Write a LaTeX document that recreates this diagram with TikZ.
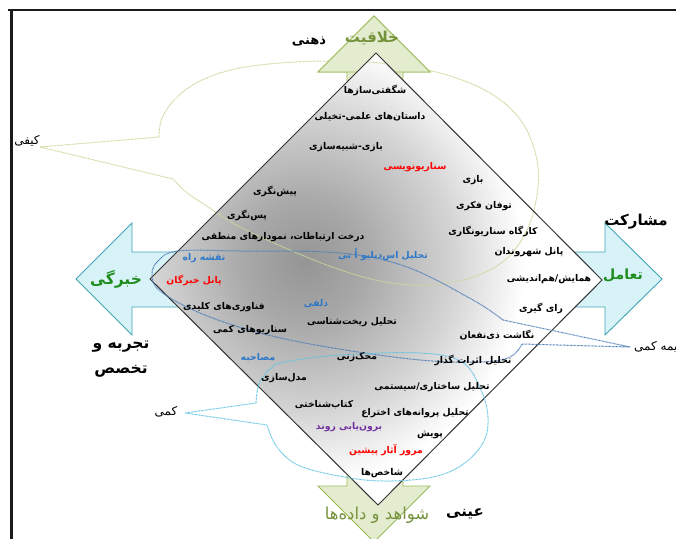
\documentclass[tikz,border=0pt]{standalone}
\usepackage{fontspec}
\newfontfamily\fafont[Script=Arabic]{DejaVu Sans}
\TeXXeTstate=1
\newcommand\rtl[1]{\beginR#1\endR}

\definecolor{frameblk}{HTML}{1A1A1A}
\definecolor{olivetxt}{HTML}{76923C}
\definecolor{greentxt}{HTML}{1E8C1E}
\definecolor{bluetxt}{HTML}{2E78C8}
\definecolor{purpletxt}{HTML}{7030A0}
\definecolor{redtxt}{HTML}{FF0000}
\definecolor{garrowfill}{HTML}{E4ECD0}
\definecolor{garrowedge}{HTML}{9BBB59}
\definecolor{carrowfill}{HTML}{D8F3F8}
\definecolor{carrowedge}{HTML}{3FA5B5}
\definecolor{gloop}{HTML}{C9D99C}
\definecolor{bloop}{HTML}{4F7FBA}
\definecolor{cloop}{HTML}{62C4E4}
\definecolor{dshA}{HTML}{959595}
\definecolor{dshB}{HTML}{A8A8A8}
\definecolor{dshC}{HTML}{D4D4D4}

% radial fill of the diamond: 25bp is the radius of the shaded circle
\pgfdeclareradialshading{diamondshade}{\pgfpoint{0bp}{0bp}}{%
  color(0bp)=(dshA); color(4.7bp)=(dshB); color(11.7bp)=(dshC);
  color(17.2bp)=(white); color(50bp)=(white)}

\tikzset{
  lbl/.style={font=\fafont\bfseries\fontsize{9.3}{10}\selectfont, inner sep=0pt, text=black},
  biglbl/.style={font=\fafont\bfseries\fontsize{14}{17}\selectfont, inner sep=0pt, text=black},
  sidelbl/.style={font=\fafont\fontsize{12}{13}\selectfont, inner sep=0pt, text=black},
  garrow/.style={draw=garrowedge, line width=0.9pt, fill=garrowfill},
  carrow/.style={draw=carrowedge, line width=0.9pt, fill=carrowfill},
  loopline/.style={line width=1pt, dash pattern=on 0.8pt off 0.6pt},
}

\begin{document}
\begin{tikzpicture}[x=1pt, y=-1pt]
\useasboundingbox (0,0) rectangle (676,538);

% page frame
\draw[line width=2.6pt, frameblk] (8,10) -- (690,10);
\draw[line width=2.6pt, frameblk] (11.5,9) -- (11.5,545);

% four direction arrows
\draw[garrow] (347,140) -- (347,72) -- (318,72) -- (374,16) -- (430,72) -- (403,72) -- (403,140) -- cycle;
\draw[garrow] (347,430) -- (347,486) -- (318,486) -- (374,542) -- (430,486) -- (403,486) -- (403,430) -- cycle;
\draw[carrow] (230,252) -- (132,252) -- (132,223) -- (76,279) -- (132,335) -- (132,307) -- (230,307) -- cycle;
\draw[carrow] (520,252) -- (605,252) -- (605,223) -- (662,279) -- (605,335) -- (605,307) -- (520,307) -- cycle;

% qualitative callout
\def\qualpath{plot[smooth, tension=0.6] coordinates {(159,137) (162,118) (176,98) (200,81) (235,69) (280,63) (330,61) (380,63) (440,73) (490,93) (522,122) (537,160) (537,195) (527,230) (505,260) (470,278) (425,285) (380,281) (335,268) (290,250) (240,227) (205,205) (186,192) (173,179)} -- (40,147) -- cycle}
\draw[loopline, gloop] \qualpath;
\draw[garrow] (318,72) -- (374,16) -- (430,72) -- cycle;

% diamond of methods
\coordinate (dl) at (150,279);
\coordinate (dt) at (376,53);
\coordinate (dr) at (602,280);
\coordinate (db) at (378,505);
\begin{scope}[shift={(2.5,2.5)}]
  \fill[black, opacity=0.22] (dl) -- (dt) -- (dr) -- (db) -- cycle;
\end{scope}
\begin{scope}
  \clip (dl) -- (dt) -- (dr) -- (db) -- cycle;
  \fill[white] (dl) -- (dt) -- (dr) -- (db) -- cycle;
  \shade[shading=diamondshade] (305,262) circle (320pt);
  \draw[loopline, gloop] \qualpath;
\end{scope}
\draw[line width=1pt, black!80] (dl) -- (dt) -- (dr) -- (db) -- cycle;

% semi-quantitative callout
\draw[loopline, bloop] plot[smooth, tension=0.6] coordinates {(503,320) (473,300) (407,267) (340,253) (240,251) (178,251) (158,261) (152,275) (160,291) (200,313) (260,333) (333,348) (420,360) (480,362) (510,357) (522,344)} -- (630,347) -- cycle;

% quantitative callout
\draw[loopline, cloop] plot[smooth, tension=0.6] coordinates {(256,403) (259,384) (270,369) (285,362) (340,355) (420,353) (462,362) (481,390) (488,418) (483,443) (462,465) (433,477) (390,481) (350,478) (300,466) (277,447) (267,425)} -- (185,413) -- cycle;

% axis labels
\node[biglbl, font=\fafont\bfseries\fontsize{13}{15}\selectfont] (zehni) at (309,42) {\rtl{ذهنی}};
\node[biglbl, font=\fafont\bfseries\fontsize{15}{17}\selectfont, text=olivetxt] (khalaghiat) at (372,38) {\rtl{خلاقیت}};
\node[biglbl, font=\fafont\bfseries\fontsize{15}{17}\selectfont] (eyni) at (465,514) {\rtl{عینی}};
\node[biglbl, font=\fafont\fontsize{16.5}{18}\selectfont, text=olivetxt] (shavahed) at (377,515) {\rtl{شواهد و داده‌ها}};
\node[biglbl, font=\fafont\bfseries\fontsize{15.5}{17}\selectfont, text=greentxt] (khebregi) at (116,279) {\rtl{خبرگی}};
\node[biglbl, font=\fafont\bfseries\fontsize{15.5}{25}\selectfont, align=center] (tajrobe) at (121,359) {\rtl{تجربه و}\\\rtl{تخصص}};
\node[biglbl, font=\fafont\bfseries\fontsize{15}{17}\selectfont] (mosharekat) at (636,222) {\rtl{مشارکت}};
\node[biglbl, text=greentxt] (taamol) at (623,275) {\rtl{تعامل}};
\node[sidelbl] (keyfi) at (27,141) {\rtl{کیفی}};
\node[sidelbl] (kammi) at (166,412) {\rtl{کمی}};
\node[sidelbl, anchor=west] (nimekammi) at (634,347) {\rtl{نیمه کمی}};

% methods
\node[lbl] (m1) at (375,90) {\rtl{شگفتی‌سازها}};
\node[lbl] (m2) at (370,117) {\rtl{داستان‌های علمی-تخیلی}};
\node[lbl] (m3) at (346,147) {\rtl{بازی-شبیه‌سازی}};
\node[lbl, text=redtxt] (m4) at (415,167) {\rtl{سناریونویسی}};
\node[lbl] (m5) at (473,180) {\rtl{بازی}};
\node[lbl] (m6) at (275,191) {\rtl{پیش‌نگری}};
\node[lbl] (m7) at (484,206) {\rtl{توفان فکری}};
\node[lbl] (m8) at (247,215) {\rtl{پس‌نگری}};
\node[lbl] (m9) at (493,231) {\rtl{کارگاه سناریونگاری}};
\node[lbl] (m10) at (283,237) {\rtl{درخت ارتباطات، نمودارهای منطقی}};
\node[lbl, text=bluetxt] (m11) at (383,255) {\rtl{تحلیل اس‌دبلیو اُ تی}};
\node[lbl] (m12) at (529,252) {\rtl{پانل شهروندان}};
\node[lbl, text=bluetxt] (m13) at (204,258) {\rtl{نقشه راه}};
\node[lbl, text=redtxt] (m14) at (194,280) {\rtl{پانل خبرگان}};
\node[lbl] (m15) at (549,279) {\rtl{همایش/هم‌اندیشی}};
\node[lbl] (m16) at (224,307) {\rtl{فناوری‌های کلیدی}};
\node[lbl] (m17) at (541,308) {\rtl{رای گیری}};
\node[lbl, text=bluetxt] (m18) at (316,304) {\rtl{دلفی}};
\node[lbl] (m19) at (352,322) {\rtl{تحلیل ریخت‌شناسی}};
\node[lbl] (m20) at (250,330) {\rtl{سناریوهای کمی}};
\node[lbl] (m21) at (497,335) {\rtl{نگاشت ذی‌نفعان}};
\node[lbl, text=bluetxt] (m22) at (258,358) {\rtl{مصاحبه}};
\node[lbl] (m23) at (357,357) {\rtl{محک‌زنی}};
\node[lbl] (m24) at (473,360) {\rtl{تحلیل اثرات گذار}};
\node[lbl] (m25) at (284,378) {\rtl{مدل‌سازی}};
\node[lbl] (m26) at (432,387) {\rtl{تحلیل ساختاری/سیستمی}};
\node[lbl] (m27) at (324,405) {\rtl{کتاب‌شناختی}};
\node[lbl] (m28) at (415,413) {\rtl{تحلیل پروانه‌های اختراع}};
\node[lbl, text=purpletxt] (m29) at (349,427) {\rtl{برون‌یابی روند}};
\node[lbl] (m30) at (430,435) {\rtl{پویش}};
\node[lbl, text=redtxt] (m31) at (386,450) {\rtl{مرور آثار پیشین}};
\node[lbl] (m32) at (382,473) {\rtl{شاخص‌ها}};
\end{tikzpicture}
\end{document}
